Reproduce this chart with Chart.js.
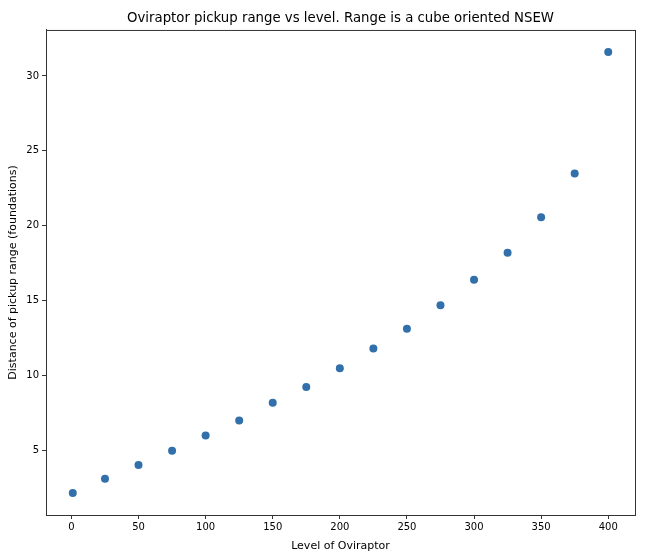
<!DOCTYPE html>
<html>
<head>
<meta charset="utf-8">
<script src="https://cdn.jsdelivr.net/npm/chart.js@4/dist/chart.umd.min.js"></script>
<style>
  html, body { margin: 0; padding: 0; background: #fff; }
  #wrap { width: 649px; height: 553px; }
</style>
</head>
<body>
<div id="wrap"><canvas id="chart" width="649" height="553"></canvas></div>
<script>
const levels = [1, 25, 50, 75, 100, 125, 150, 175, 200, 225, 250, 275, 300, 325, 350, 375, 400];
const distances = [2.16, 3.11, 4.02, 4.98, 6.0, 7.0, 8.18, 9.24, 10.49, 11.8, 13.13, 14.69, 16.4, 18.2, 20.56, 23.49, 31.6];
const xTicks = [0, 50, 100, 150, 200, 250, 300, 350, 400];
const yTicks = [5, 10, 15, 20, 25, 30];

const FONT = "'DejaVu Sans', sans-serif";

// top and right spines, Chart.js only draws the axis borders
const frame = {
  id: 'frame',
  afterDraw(chart) {
    const { ctx, chartArea: a } = chart;
    ctx.save();
    ctx.strokeStyle = '#333';
    ctx.lineWidth = 1;
    ctx.strokeRect(a.left + 0.5, a.top + 0.5, a.right - a.left, a.bottom - a.top);
    ctx.restore();
  }
};

const ctx = document.getElementById('chart').getContext('2d');
new Chart(ctx, {
  type: 'scatter',
  data: {
    datasets: [{
      label: 'range',
      data: levels.map((x, i) => ({ x, y: distances[i] })),
      backgroundColor: '#3170aa',
      borderColor: '#3170aa',
      pointRadius: 4,
      pointHoverRadius: 4,
      borderWidth: 0
    }]
  },
  options: {
    responsive: false,
    animation: false,
    layout: { padding: { left: 0, right: 14, top: 0, bottom: 0 } },
    plugins: {
      legend: { display: false },
      tooltip: { enabled: false },
      title: {
        display: true,
        fullSize: false,
        text: 'Oviraptor pickup range vs level. Range is a cube oriented NSEW',
        color: '#000',
        font: { family: FONT, size: 13.3, weight: 'normal' },
        padding: { top: 11, bottom: 3 }
      }
    },
    scales: {
      x: {
        type: 'linear',
        min: -18.95,
        max: 419.95,
        afterBuildTicks: (s) => { s.ticks = xTicks.map(v => ({ value: v })); },
        afterFit: (s) => { s.height = 38; },
        ticks: { color: '#000', font: { family: FONT, size: 10 }, padding: 2, maxRotation: 0 },
        grid: { display: true, drawOnChartArea: false, drawTicks: true, tickLength: 4, color: '#333' },
        border: { display: true, color: '#333' },
        title: {
          display: true,
          text: 'Level of Oviraptor',
          color: '#000',
          font: { family: FONT, size: 11 },
          padding: { top: 1, bottom: 0 }
        }
      },
      y: {
        type: 'linear',
        min: 0.69,
        max: 33.07,
        afterBuildTicks: (s) => { s.ticks = yTicks.map(v => ({ value: v })); },
        afterFit: (s) => { s.width = 46; },
        ticks: { color: '#000', font: { family: FONT, size: 10 }, padding: 3 },
        grid: { display: true, drawOnChartArea: false, drawTicks: true, tickLength: 4, color: '#333' },
        border: { display: true, color: '#333' },
        title: {
          display: true,
          text: 'Distance of pickup range (foundations)',
          color: '#000',
          font: { family: FONT, size: 11 },
          padding: { top: 7, bottom: 0 }
        }
      }
    }
  },
  plugins: [frame]
});
</script>
</body>
</html>
